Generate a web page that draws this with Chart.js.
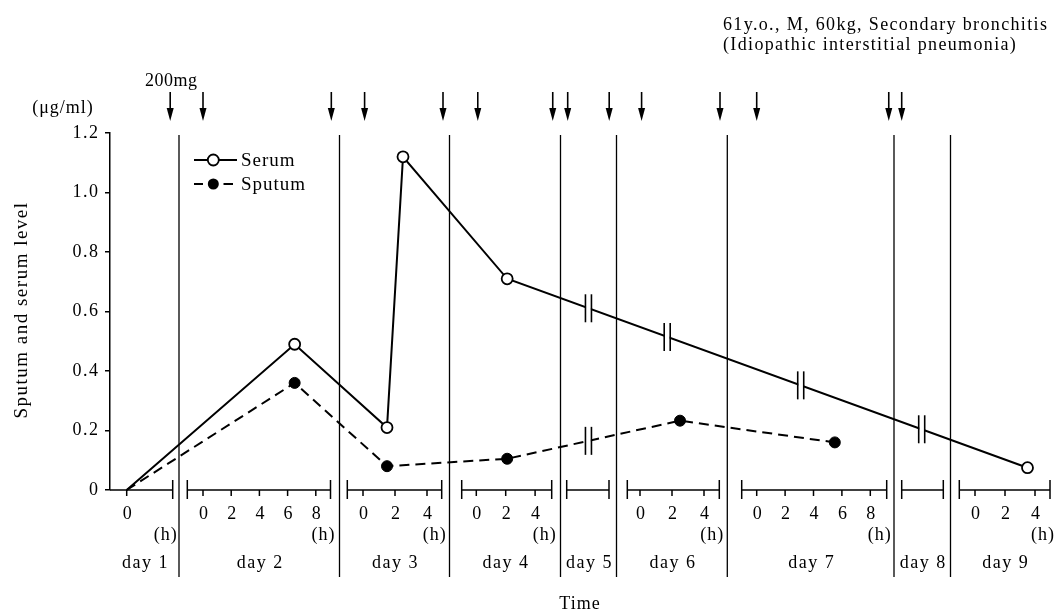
<!DOCTYPE html>
<html>
<head>
<meta charset="utf-8">
<script src="https://cdn.jsdelivr.net/npm/chart.js@4.4.1/dist/chart.umd.min.js"></script>
<style>
html,body{margin:0;padding:0;background:#fff;}
#wrap{width:1059px;height:613px;position:relative;}
</style>
</head>
<body>
<div id="wrap"><canvas id="c" width="1059" height="613"></canvas></div>
<script>
// ---------------- data ----------------
const yTicks = [0, 0.2, 0.4, 0.6, 0.8, 1.0, 1.2];
const dayLabels = ['day 1','day 2','day 3','day 4','day 5','day 6','day 7','day 8','day 9'];
const hourTicks = [[0],[0,2,4,6,8],[0,2,4],[0,2,4],[],[0,2,4],[0,2,4,6,8],[],[0,2,4]];

const serumDay   = [1, 2,   3,   3,    4,   9];
const serumHour  = [0, 6.5, 1.5, 2.5,  2.1, 3.5];
const serumValue = [0, 0.49, 0.21, 1.12, 0.71, 0.075];

const sputumDay   = [1, 2,   3,    4,   6,    7];
const sputumHour  = [0, 6.5, 1.5,  2.1, 2.5,  5.5];
const sputumValue = [0, 0.36, 0.08, 0.105, 0.233, 0.16];

// dosing times (arrows)
const doseDay  = [1, 2, 2,   3,   3, 4,   4,   5, 5, 6,   6, 7, 7,   8];
const doseHour = [3, 0, 9.1, 0.1, 5, 0.1, 5.2, 0, 5, 0.1, 5, 0, 9.3, 0];
const doseLabel = '200mg';

// axis breaks drawn on the lines
const serumBreakDay  = [5, 6, 7, 8];
const serumBreakHour = [2.5, 1.7, 3.1, 2.5];
const sputumBreakDay  = [5];
const sputumBreakHour = [2.5];

const noteLines = ['61y.o., M, 60kg, Secondary bronchitis', '(Idiopathic interstitial pneumonia)'];

// ---------------- layout of the broken time axis (x-scale units) ----------------
const SEG = [
  {from:110,   zero:126.7, perHour:14.5, to:172.7},
  {from:187.3, zero:203,   perHour:14.1, to:330.5},
  {from:347.3, zero:363,   perHour:16,   to:441.7},
  {from:461.7, zero:476.3, perHour:14.7, to:551.7},
  {from:566.7, zero:567.7, perHour:8.3,  to:609},
  {from:627.3, zero:640,   perHour:16,   to:719.3},
  {from:741.7, zero:756.7, perHour:14.2, to:886.7},
  {from:901.7, zero:901.7, perHour:8,    to:943.3},
  {from:959.3, zero:975,   perHour:15,   to:1050}
];
const dayBoundary = [179, 339.5, 449.5, 560.5, 616.5, 727.3, 894, 950.5];
const X_MIN = 110, X_MAX = 1059;
const xOf = (day, hour) => SEG[day-1].zero + hour * SEG[day-1].perHour;

const FONT = '"Liberation Serif", "DejaVu Serif", serif';

function seg(ctx, x1, y1, x2, y2) { ctx.beginPath(); ctx.moveTo(x1, y1); ctx.lineTo(x2, y2); ctx.stroke(); }
function text(ctx, s, x, y, align, size, spacing) {
  ctx.font = size + 'px ' + FONT;
  ctx.letterSpacing = (spacing == null ? 1 : spacing) + 'px';
  ctx.textAlign = align; ctx.textBaseline = 'alphabetic';
  ctx.fillText(s, x, y);
}

const deco = {
  id: 'deco',
  beforeDatasetsDraw(chart) {
    const {ctx} = chart;
    const xs = chart.scales.x, ys = chart.scales.y;
    const px = v => xs.getPixelForValue(v);
    const base = ys.getPixelForValue(0);
    ctx.save();
    ctx.strokeStyle = '#000'; ctx.fillStyle = '#000';
    // day boundaries
    ctx.lineWidth = 1.3;
    dayBoundary.forEach(b => seg(ctx, px(b), ys.top + 2, px(b), base + 87));
    // segmented time axis
    SEG.forEach((s, i) => {
      ctx.lineWidth = 1.5;
      seg(ctx, px(s.from), base, px(s.to), base);
      if (i > 0) seg(ctx, px(s.from), base - 10, px(s.from), base + 9);
      seg(ctx, px(s.to), base - 10, px(s.to), base + 9);
      hourTicks[i].forEach(h => {
        const X = px(s.zero + h * s.perHour);
        seg(ctx, X, base, X, base + 6);
        text(ctx, String(h), X + 0.5, base + 29, 'center', 18, 0);
      });
      if (hourTicks[i].length) text(ctx, '(h)', px(s.to) + 5, base + 50, 'right', 18, 1);
      const l = i === 0 ? X_MIN : dayBoundary[i-1];
      const r = i === SEG.length - 1 ? X_MAX : dayBoundary[i];
      text(ctx, dayLabels[i], (px(l) + px(r)) / 2 + 1, base + 78, 'center', 18, 1.5);
    });
    // dose arrows
    doseDay.forEach((d, i) => {
      const X = px(xOf(d, doseHour[i]));
      ctx.lineWidth = 1.6;
      seg(ctx, X, 92, X, 110);
      ctx.beginPath(); ctx.moveTo(X - 3.5, 108); ctx.lineTo(X + 3.5, 108); ctx.lineTo(X, 121); ctx.closePath(); ctx.fill();
    });
    text(ctx, doseLabel, px(xOf(doseDay[0], doseHour[0])) + 1, 86, 'center', 18, 0.5);
    // unit label
    text(ctx, '(\u03bcg/ml)', 63, 113, 'center', 18, 1);
    // note
    text(ctx, noteLines[0], 723, 30, 'left', 18, 1.35);
    text(ctx, noteLines[1], 723, 50, 'left', 18, 1.35);
    // axis titles
    text(ctx, 'Time', 580, 609, 'center', 18, 1);
    ctx.save();
    ctx.translate(27, 310); ctx.rotate(-Math.PI / 2);
    text(ctx, 'Sputum and serum level', 0, 0, 'center', 19, 1.5);
    ctx.restore();
    ctx.restore();
  },
  afterDatasetsDraw(chart) {
    const {ctx} = chart;
    const xs = chart.scales.x;
    const px = v => xs.getPixelForValue(v);
    ctx.save();
    ctx.strokeStyle = '#000'; ctx.fillStyle = '#000';
    const drawBreaks = (dsIndex, days, hours) => {
      const pts = chart.getDatasetMeta(dsIndex).data;
      days.forEach((d, i) => {
        const bx = px(xOf(d, hours[i]));
        for (let k = 0; k < pts.length - 1; k++) {
          const a = pts[k], b = pts[k+1];
          if (a.x <= bx && bx <= b.x) {
            const by = a.y + (b.y - a.y) * (bx - a.x) / (b.x - a.x);
            ctx.fillStyle = '#fff';
            ctx.fillRect(bx - 2.4, by - 5, 4.8, 10);
            ctx.lineWidth = 1.6;
            seg(ctx, bx - 3, by - 14, bx - 3, by + 14);
            seg(ctx, bx + 3, by - 14, bx + 3, by + 14);
            break;
          }
        }
      });
    };
    drawBreaks(0, serumBreakDay, serumBreakHour);
    drawBreaks(1, sputumBreakDay, sputumBreakHour);
    // legend
    ctx.lineWidth = 2; ctx.strokeStyle = '#000';
    seg(ctx, 194, 160, 237, 160);
    ctx.beginPath(); ctx.arc(213.3, 160, 5.5, 0, Math.PI * 2); ctx.fillStyle = '#fff'; ctx.fill(); ctx.lineWidth = 1.8; ctx.stroke();
    ctx.fillStyle = '#000';
    text(ctx, 'Serum', 241, 166, 'left', 19, 1);
    ctx.lineWidth = 2;
    seg(ctx, 194, 184, 203, 184);
    seg(ctx, 223.5, 184, 233, 184);
    ctx.beginPath(); ctx.arc(213.3, 184, 5.5, 0, Math.PI * 2); ctx.fill();
    text(ctx, 'Sputum', 241, 190, 'left', 19, 1);
    ctx.restore();
  }
};

const serumPts  = serumDay.map((d, i) => ({x: xOf(d, serumHour[i]), y: serumValue[i]}));
const sputumPts = sputumDay.map((d, i) => ({x: xOf(d, sputumHour[i]), y: sputumValue[i]}));

new Chart(document.getElementById('c'), {
  type: 'line',
  data: {
    datasets: [
      {
        label: 'Serum', data: serumPts,
        borderColor: '#000', borderWidth: 2, tension: 0, clip: false,
        pointRadius: c => c.dataIndex === 0 ? 0 : 5.5,
        pointBackgroundColor: '#fff', pointBorderColor: '#000', pointBorderWidth: 1.8
      },
      {
        label: 'Sputum', data: sputumPts,
        borderColor: '#000', borderWidth: 2, borderDash: [10, 6], tension: 0, clip: false,
        pointRadius: c => c.dataIndex === 0 ? 0 : 5.5,
        pointBackgroundColor: '#000', pointBorderColor: '#000', pointBorderWidth: 1
      }
    ]
  },
  options: {
    responsive: false, animation: false,
    layout: {autoPadding: false, padding: {top: 133, bottom: 123, left: 0, right: 0}},
    plugins: {legend: {display: false}, tooltip: {enabled: false}},
    scales: {
      x: {type: 'linear', min: X_MIN, max: X_MAX, display: false},
      y: {
        type: 'linear', min: 0, max: 1.2,
        afterFit: s => { s.width = 110; },
        afterBuildTicks: s => { s.ticks = yTicks.map(v => ({value: v})); },
        ticks: {
          color: '#000', padding: 7,
          font: {family: FONT, size: 18},
          callback: v => v === 0 ? '0' : Number(v).toFixed(1).split('').join('\u200A')
        },
        grid: {drawOnChartArea: false, tickLength: 5, color: '#000', lineWidth: 1.5},
        border: {color: '#000', width: 1.5}
      }
    }
  },
  plugins: [deco]
});
</script>
</body>
</html>
